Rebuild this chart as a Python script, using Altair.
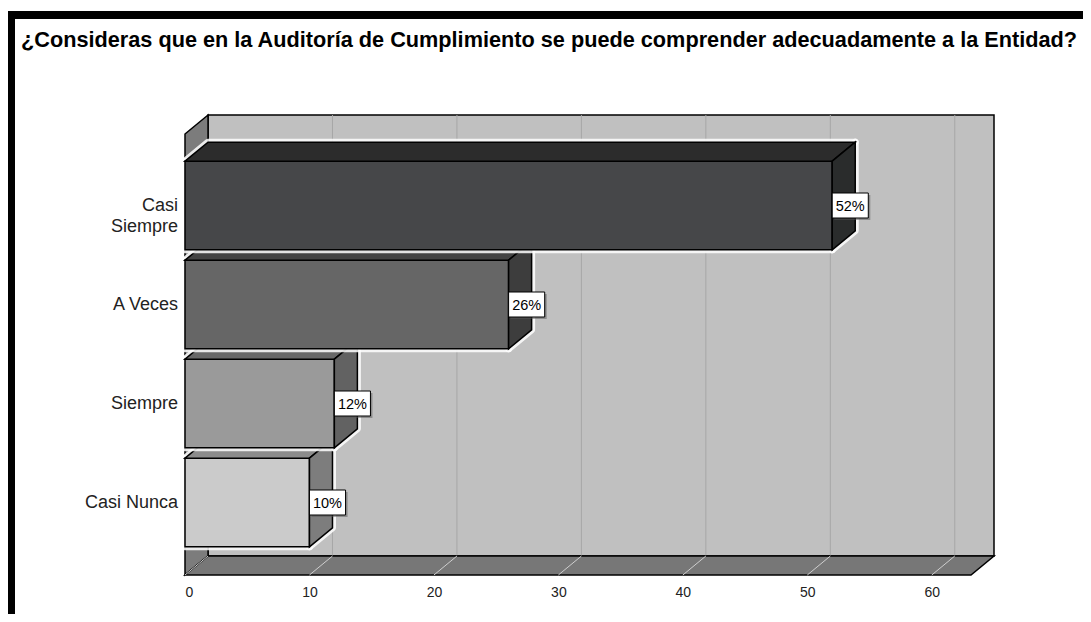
import altair as alt
import pandas as pd

# ---------------- data ----------------
categories = ["Casi Nunca", "Siempre", "A Veces", "Casi Siempre"]
category_lines = [["Casi Nunca"], ["Siempre"], ["A Veces"], ["Casi", "Siempre"]]
values = [10, 12, 26, 52]
value_labels = ["10%", "12%", "26%", "52%"]
front_colors = ["#cbcbcb", "#9a9a9a", "#666666", "#464749"]
top_colors = ["#8c8c8c", "#686868", "#444444", "#2c2c2c"]
side_colors = ["#7d7d7d", "#626262", "#3d3d3d", "#2a2c2c"]
x_ticks = [0, 10, 20, 30, 40, 50, 60]
title_text = "¿Consideras que en la Auditoría de Cumplimiento se puede comprender adecuadamente a la Entidad?"

# ---------------- layout (style) ----------------
X_MAX = 65.0          # back wall right edge
Y_MAX = 46.0          # back wall top edge
DX, DY = 1.85, 1.9    # 3-D depth offset in data units
FLOOR_END = X_MAX - DX
C0, STEP, HALF = 7.25, 9.9, 4.43
W, H = 809, 460
FONT = "Liberation Sans"

xs = alt.Scale(domain=[0, X_MAX], nice=False, zero=False)
ys = alt.Scale(domain=[0, Y_MAX], nice=False, zero=False)
x_axis = alt.Axis(values=x_ticks, title=None, domain=False, ticks=False, grid=False,
                  labelFont=FONT, labelFontSize=14, labelColor="#222222",
                  labelPadding=10, labelBaseline="top")


def X(f):
    return alt.X(f, type="quantitative", scale=xs, axis=x_axis)


def Y(f):
    return alt.Y(f, type="quantitative", scale=ys, axis=None)


def poly_layer(rows, stroke="black", sw=1.5, glow=False):
    df = pd.DataFrame(rows, columns=["face", "x", "lo", "hi", "fill"])
    if glow:
        mk = alt.Chart(df).mark_area(orient="vertical", fill="white", stroke="white",
                                     strokeWidth=7, opacity=0.85, strokeJoin="round")
        return mk.encode(x=X("x"), y=Y("hi"), y2="lo", detail="face:N")
    mk = alt.Chart(df).mark_area(orient="vertical", stroke=stroke, strokeWidth=sw,
                                 strokeJoin="miter")
    return mk.encode(x=X("x"), y=Y("hi"), y2="lo", detail="face:N",
                     fill=alt.Fill("fill:N", scale=None))


layers = []

# back wall
layers.append(poly_layer([
    ["back", DX, DY, Y_MAX, "#c0c0c0"],
    ["back", X_MAX, DY, Y_MAX, "#c0c0c0"],
]))
# gridlines on back wall
grid_df = pd.DataFrame({"t": x_ticks[1:]})
layers.append(
    alt.Chart(grid_df).transform_calculate(xb=f"datum.t + {DX}", y0=f"{DY}", y1=f"{Y_MAX}")
    .mark_rule(color="#a6a6a6", strokeWidth=1)
    .encode(x=X("xb:Q"), y=Y("y0:Q"), y2="y1:Q")
)
# left wall
layers.append(poly_layer([
    ["left", 0, 0, Y_MAX - DY, "#7c7c7c"],
    ["left", DX, DY, Y_MAX, "#7c7c7c"],
]))
# floor
layers.append(poly_layer([
    ["floor", 0, 0, 0, "#777777"],
    ["floor", DX, 0, DY, "#777777"],
    ["floor", FLOOR_END, 0, DY, "#777777"],
    ["floor", X_MAX, DY, DY, "#777777"],
]))
# floor gridlines
fgrid_df = pd.DataFrame({"t": x_ticks})
layers.append(
    alt.Chart(fgrid_df).transform_calculate(xb=f"datum.t + {DX}", y0="0", y1=f"{DY}")
    .mark_rule(color="#cfcfcf", strokeWidth=1)
    .encode(x=X("t:Q"), x2="xb:Q", y=Y("y0:Q"), y2="y1:Q")
)

# bars (bottom to top so upper bars overlap lower ones)
for i, (cat, v) in enumerate(zip(categories, values)):
    c = C0 + STEP * i
    b, t = c - HALF, c + HALF
    rows = [
        ["front", 0, b, t, front_colors[i]],
        ["front", v, b, t, front_colors[i]],
        ["top", 0, t, t, top_colors[i]],
        ["top", DX, t, t + DY, top_colors[i]],
        ["top", v, t, t + DY, top_colors[i]],
        ["top", v + DX, t + DY, t + DY, top_colors[i]],
        ["side", v, b, t, side_colors[i]],
        ["side", v + DX, b + DY, t + DY, side_colors[i]],
    ]
    layers.append(poly_layer(rows, glow=True))
    layers.append(poly_layer(rows))

# value labels
lab_df = pd.DataFrame({"cat": categories, "v": values, "lab": value_labels,
                       "c": [C0 + STEP * i for i in range(len(values))]})
lab_base = alt.Chart(lab_df).transform_calculate(
    x1="datum.v", x2="datum.v + 2.9", y1="datum.c - 1.25", y2="datum.c + 1.25",
    xm="datum.v + 1.45")
layers.append(lab_base.mark_rect(fill="#555555", opacity=0.5, xOffset=2, x2Offset=2,
                                 yOffset=2, y2Offset=2)
              .encode(x=X("x1:Q"), x2="x2:Q", y=Y("y1:Q"), y2="y2:Q"))
layers.append(lab_base.mark_rect(fill="white", stroke="black", strokeWidth=1)
              .encode(x=X("x1:Q"), x2="x2:Q", y=Y("y1:Q"), y2="y2:Q"))
layers.append(lab_base.mark_text(font=FONT, fontSize=14.5, color="black",
                                 align="center", baseline="middle", dy=1)
              .encode(x=X("xm:Q"), y=Y("c:Q"), text="lab:N"))

# category labels
cat_df = pd.DataFrame({"lines": category_lines, "x0": [0] * 4,
                       "c": [C0 + STEP * i for i in range(4)]})
layers.append(alt.Chart(cat_df).mark_text(font=FONT, fontSize=18, color="#222222",
                                          align="right", baseline="middle", dx=-7,
                                          lineHeight=21)
              .encode(x=X("x0:Q"), y=Y("c:Q"), text="lines"))

# title
layers.append(alt.Chart(pd.DataFrame({"t": [title_text]})).mark_text(
    font=FONT, fontSize=21.7, fontWeight="bold", color="black", align="left",
    baseline="alphabetic").encode(x=alt.value(-164), y=alt.value(-68), text="t:N"))

# frame
layers.append(alt.Chart(pd.DataFrame({"a": [1]})).mark_rect(
    fillOpacity=0, stroke="black", strokeWidth=8).encode(
    x=alt.value(-174), x2=alt.value(940), y=alt.value(-100), y2=alt.value(530)))

chart = alt.layer(*layers).properties(
    width=W, height=H,
    autosize=alt.AutoSizeParams(type="none"),
    padding={"left": 177, "top": 107, "right": 89, "bottom": 39},
    background="white",
).configure_view(stroke=None)

chart.save("out.html", embed_options={"renderer": "svg", "actions": False})
